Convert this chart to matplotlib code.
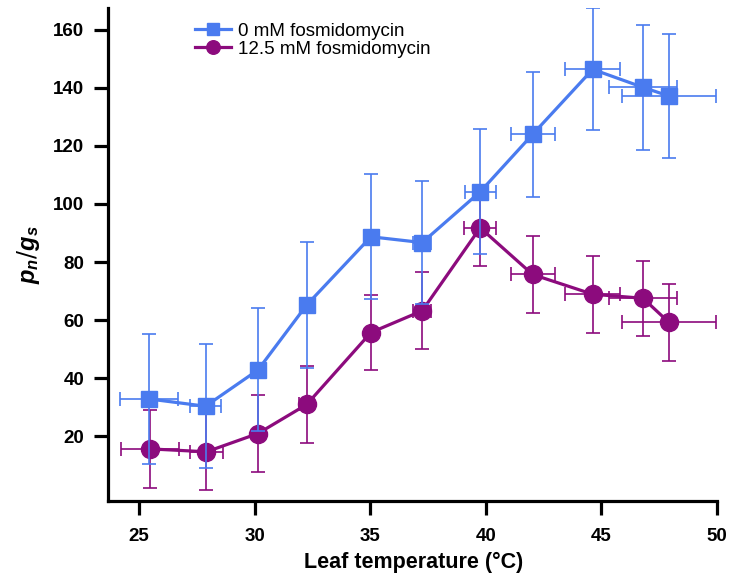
import numpy as np
import matplotlib
matplotlib.use('Agg')
import matplotlib.pyplot as plt

# 0 mM fosmidomycin
t0 = [25.43, 27.87, 30.14, 32.25, 35.03, 37.25, 39.76, 42.03, 44.63, 46.81, 47.93]
t0_err = [1.25, 0.66, 0.0, 0.3, 0.0, 0.4, 0.67, 0.95, 1.18, 1.48, 2.05]
r0 = [32.8, 30.3, 42.8, 65.2, 88.7, 86.7, 104.2, 124.0, 146.4, 140.2, 137.2]
r0_err = [22.5, 21.3, 21.2, 21.7, 21.5, 21.3, 21.5, 21.5, 21.0, 21.5, 21.4]

# 12.5 mM fosmidomycin
t1 = [25.47, 27.91, 30.14, 32.25, 35.03, 37.25, 39.76, 42.03, 44.63, 46.81, 47.93]
t1_err = [1.25, 0.73, 0.0, 0.32, 0.0, 0.4, 0.7, 0.95, 1.2, 1.47, 2.05]
r1 = [15.6, 14.6, 20.9, 30.9, 55.7, 63.2, 91.8, 75.7, 68.9, 67.5, 59.2]
r1_err = [13.5, 13.0, 13.2, 13.1, 12.9, 13.2, 13.2, 13.2, 13.2, 13.0, 13.2]

blue = '#4a7bef'
purple = '#8c0b7d'

plt.rcParams['font.family'] = ['Liberation Sans', 'DejaVu Sans']
plt.rcParams['mathtext.fontset'] = 'custom'
plt.rcParams['mathtext.bfit'] = 'Liberation Sans:italic:bold'
plt.rcParams['mathtext.it'] = 'Liberation Sans:italic:bold'

fig = plt.figure(figsize=(7.3, 5.8), dpi=100)
ax = fig.add_axes([0.148, 0.136, 0.837, 0.85])

ax.errorbar(t0, r0, yerr=r0_err, xerr=t0_err, color=blue, marker='s', markersize=11.5,
            linewidth=2.3, elinewidth=1.2, capsize=5, capthick=1.2,
            label='0 mM fosmidomycin', zorder=3)
ax.errorbar(t1, r1, yerr=r1_err, xerr=t1_err, color=purple, marker='o', markersize=13,
            linewidth=2.3, elinewidth=1.2, capsize=5, capthick=1.2,
            label='12.5 mM fosmidomycin', zorder=2)

ax.set_xlim(23.65, 50.1)
ax.set_ylim(-2.4, 167.5)
ax.set_xticks([25, 30, 35, 40, 45, 50])
ax.set_yticks([20, 40, 60, 80, 100, 120, 140, 160])

for s in ['top', 'right']:
    ax.spines[s].set_visible(False)
for s in ['left', 'bottom']:
    ax.spines[s].set_linewidth(2.3)
ax.spines['bottom'].set_bounds(23.65, 50)
ax.tick_params(axis='both', width=2.3, length=10, labelsize=13.5, direction='out')
ax.tick_params(axis='x', pad=9)
ax.tick_params(axis='y', pad=7)
for lab in ax.get_xticklabels() + ax.get_yticklabels():
    lab.set_fontweight('bold')

ax.set_xlabel('Leaf temperature (°C)', fontsize=15.5, fontweight='bold', labelpad=5)
ax.set_ylabel(r'$p_n/g_s$', fontsize=17, labelpad=8)

handles, labels = ax.get_legend_handles_labels()
handles = [h[0] for h in handles]
ax.legend(handles, labels, loc='upper left', bbox_to_anchor=(0.115, 1.005), frameon=False,
          fontsize=13.5, handlelength=1.9, handletextpad=0.4, labelspacing=0.05,
          markerscale=0.75)

fig.savefig('out.png', dpi=100)
